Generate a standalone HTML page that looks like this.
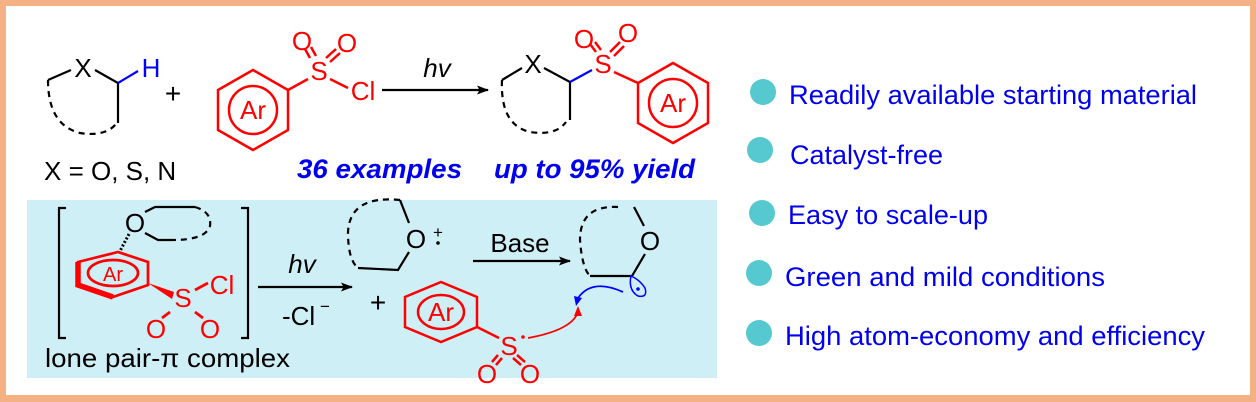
<!DOCTYPE html>
<html><head><meta charset="utf-8"><style>
html,body{margin:0;padding:0;background:#fff}
svg{display:block}
text{font-family:"Liberation Sans",Arial,sans-serif}
</style></head><body>
<svg width="1256" height="402" viewBox="0 0 1256 402" xmlns="http://www.w3.org/2000/svg">
<defs>
<marker id="ah" markerWidth="12" markerHeight="9" refX="11" refY="4.5" orient="auto" markerUnits="userSpaceOnUse"><path d="M0,0 L12,4.5 L0,9 L2.5,4.5z" fill="#000"/></marker>
</defs>
<rect x="0" y="0" width="1256" height="402" fill="#F4B183"/>
<rect x="6" y="6" width="1244" height="389" fill="#fff"/>
<rect x="27" y="200" width="690" height="178" fill="#CFEFF7"/>

<!-- top left ring -->
<g stroke="#000" stroke-width="2.2" fill="none">
<path d="M48,80 L71,70 M95,70 L118,83 L118,123"/>
<path d="M48,80 Q48,125 80,133 Q105,137 116,124" stroke-dasharray="6,5"/>
</g>
<path d="M118,83 L138,71" stroke="#00f" stroke-width="2.2"/>
<text x="83" y="77" font-size="26" text-anchor="middle">X</text>
<text x="151" y="77" font-size="26" text-anchor="middle" fill="#00f">H</text>
<text x="173" y="103" font-size="28" text-anchor="middle">+</text>
<text x="44" y="180" font-size="26">X = O, S, N</text>

<!-- ArSO2Cl -->
<g stroke="#f00" stroke-width="2.5" fill="none">
<polygon points="253,70 288,90 288,130 253,150 218,130 218,90"/>
<circle cx="253" cy="110" r="24"/>
<path d="M288,90 L308,79 M330,79 L348,88 M310,58 L305,49 M316,56 L311,47 M326,58 L336,49 M330,62 L340,53"/>
</g>
<g fill="#f00" font-size="26" text-anchor="middle">
<text x="253" y="119">Ar</text>
<text x="319" y="80">S</text>
<text x="302" y="50">O</text>
<text x="347" y="52">O</text>
<text x="363" y="100">Cl</text>
</g>
<line x1="382" y1="90" x2="488" y2="90" stroke="#000" stroke-width="2.2" marker-end="url(#ah)"/>
<text x="437" y="77" font-size="26" font-style="italic" text-anchor="middle">hv</text>

<!-- product -->
<g stroke="#000" stroke-width="2.2" fill="none">
<path d="M502,80 L522,68 M544,68 L570,82 L570,120"/>
<path d="M502,80 Q500,125 530,132 Q556,136 566,122" stroke-dasharray="6,5"/>
</g>
<path d="M570,82 L592,70" stroke="#00f" stroke-width="2.2"/>
<text x="533" y="73" font-size="26" text-anchor="middle">X</text>
<g stroke="#f00" stroke-width="2.5" fill="none">
<polygon points="673,63 708,83 708,123 673,143 638,123 638,83"/>
<circle cx="673" cy="103" r="24"/>
<path d="M614,72 L638,83 M596,52 L590,44 M601,50 L595,42 M610,52 L620,42 M614,56 L624,46"/>
</g>
<g fill="#f00" font-size="26" text-anchor="middle">
<text x="673" y="112">Ar</text>
<text x="603" y="73">S</text>
<text x="584" y="48">O</text>
<text x="628" y="42">O</text>
</g>
<g fill="#0000ee" font-size="27" font-weight="bold" font-style="italic">
<text x="297" y="178" textLength="165" lengthAdjust="spacingAndGlyphs">36 examples</text>
<text x="494" y="178" textLength="201" lengthAdjust="spacingAndGlyphs">up to 95% yield</text>
</g>

<!-- bottom: complex -->
<g stroke="#000" stroke-width="2.2" fill="none">
<path d="M66,208 L59,208 L59,338 L66,338 M241,208 L248,208 L248,338 L241,338"/>
<path d="M145,212 L155,207 L195,207 M145,233 L158,240 L172,240"/>
<path d="M195,207 Q212,212 210,226 Q206,240 172,240" stroke-dasharray="6,5"/>
<path d="M129,234 L120,251" stroke-dasharray="2,2" stroke-width="3"/>
</g>
<text x="135" y="232" font-size="26" text-anchor="middle">O</text>
<g stroke="#f00" stroke-width="2.7" fill="none">
<polygon points="118,252 148,262 148,285 113,297 78,285 78,262"/>
<ellipse cx="113" cy="273" rx="25" ry="13"/>
<path d="M78,262 L78,285 L113,297" stroke-width="5.5"/>
<path d="M195,290 L208,283 M170,312 L162,318 M195,312 L203,318"/>
</g>
<path d="M148,283 L174,292 L172,299z" fill="#f00"/>
<g fill="#f00" font-size="26" text-anchor="middle">
<text x="113" y="281" font-size="20">Ar</text>
<text x="183" y="307">S</text>
<text x="222" y="294">Cl</text>
<text x="156" y="338">O</text>
<text x="210" y="338">O</text>
</g>
<text x="45" y="367" font-size="26" textLength="245" lengthAdjust="spacingAndGlyphs">lone pair-π complex</text>

<line x1="258" y1="287" x2="352" y2="287" stroke="#000" stroke-width="2.2" marker-end="url(#ah)"/>
<text x="302" y="273" font-size="26" font-style="italic" text-anchor="middle">hv</text>
<text x="282" y="325" font-size="26">-Cl</text>
<text x="320" y="312" font-size="17">−</text>

<!-- O+ ring -->
<g stroke="#000" stroke-width="2.2" fill="none">
<path d="M400,200 L409,223 M409,252 L398,270 L358,268"/>
<path d="M400,200 Q350,195 348,232 Q348,260 358,268" stroke-dasharray="6,5"/>
</g>
<text x="416" y="248" font-size="26" text-anchor="middle">O</text>
<text x="438" y="238" font-size="17" text-anchor="middle">+</text>
<circle cx="438" cy="243" r="1.8"/>
<text x="378" y="312" font-size="28" text-anchor="middle">+</text>

<line x1="473" y1="261" x2="570" y2="261" stroke="#000" stroke-width="2.2" marker-end="url(#ah)"/>
<text x="520" y="252" font-size="26" text-anchor="middle">Base</text>

<!-- product radical ring -->
<g stroke="#000" stroke-width="2.2" fill="none">
<path d="M634,207 L644,226 M645,254 L632,276 L590,276"/>
<path d="M618,207 Q580,205 580,240 Q582,268 590,276" stroke-dasharray="6,5"/>
</g>
<text x="650" y="250" font-size="26" text-anchor="middle">O</text>
<path d="M631,276 Q628,290 638,296 Q648,298 645,288 Q640,280 631,276z" stroke="#00f" stroke-width="1.5" fill="none"/>
<circle cx="638" cy="289" r="1.8" fill="#00f"/>
<path d="M623,292 Q592,278 578,298" stroke="#00f" stroke-width="1.8" fill="none"/>
<path d="M574,296 L582,298 L576,306z" fill="#00f"/>
<path d="M528,338 Q572,330 578,312" stroke="#f00" stroke-width="1.8" fill="none"/>
<path d="M574,316 L578,306 L582,316z" fill="#f00"/>

<!-- sulfonyl radical -->
<g stroke="#f00" stroke-width="2.5" fill="none">
<polygon points="441,282 477,297 477,327 441,342 405,327 405,297"/>
<ellipse cx="441" cy="312" rx="23" ry="17"/>
<path d="M477,327 L499,338 M498,355 L492,362 M502,358 L496,365 M517,355 L525,362 M513,358 L521,365"/>
</g>
<g fill="#f00" font-size="26" text-anchor="middle">
<text x="441" y="321">Ar</text>
<text x="509" y="355">S</text>
<text x="487" y="383">O</text>
<text x="530" y="383">O</text>
</g>
<circle cx="523" cy="337" r="1.8" fill="#f00"/>

<!-- bullets -->
<g fill="#55C8D0">
<circle cx="763" cy="92" r="13"/>
<circle cx="760" cy="150" r="13"/>
<circle cx="762" cy="213" r="13"/>
<circle cx="759" cy="273" r="13"/>
<circle cx="759" cy="333" r="13"/>
</g>
<g fill="#0000ee" font-size="27">
<text x="789" y="104" textLength="408" lengthAdjust="spacingAndGlyphs">Readily available starting material</text>
<text x="790" y="164" textLength="153" lengthAdjust="spacingAndGlyphs">Catalyst-free</text>
<text x="788" y="224" textLength="200" lengthAdjust="spacingAndGlyphs">Easy to scale-up</text>
<text x="785" y="286" textLength="320" lengthAdjust="spacingAndGlyphs">Green and mild conditions</text>
<text x="785" y="345" textLength="420" lengthAdjust="spacingAndGlyphs">High atom-economy and efficiency</text>
</g>
</svg>
</body></html>
